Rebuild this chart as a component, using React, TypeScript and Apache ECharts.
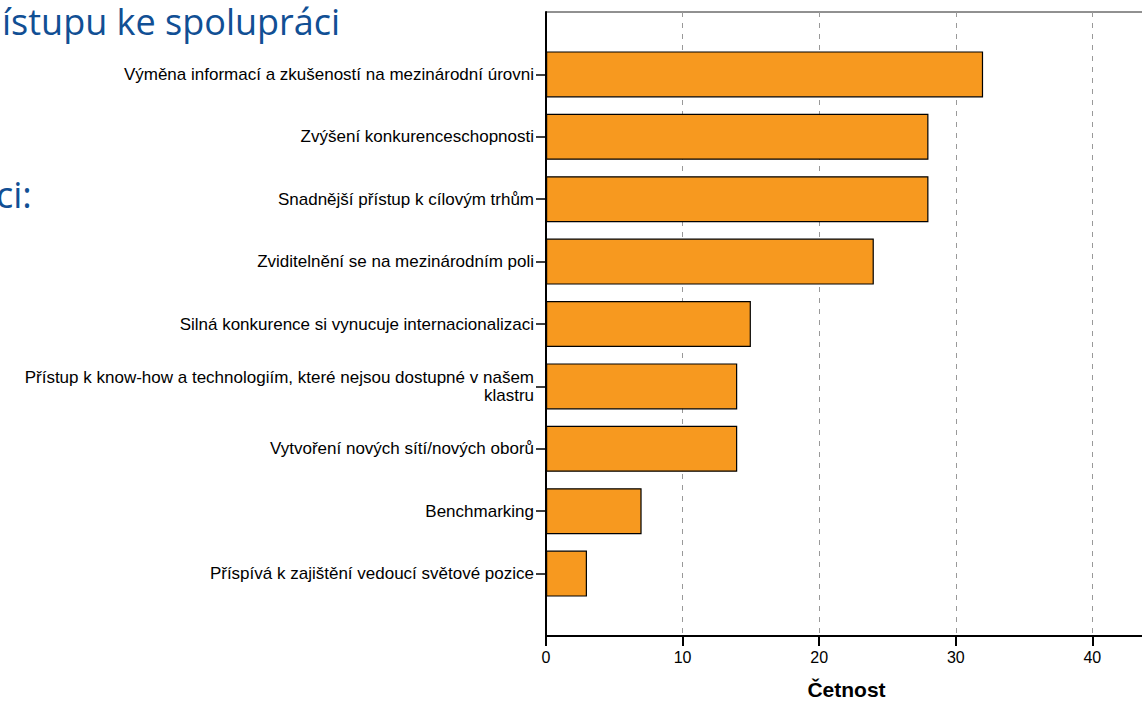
import React, { useEffect, useRef } from "react";
import * as echarts from "echarts";

const categories: string[] = [
  "Výměna informací a zkušeností na mezinárodní úrovni",
  "Zvýšení konkurenceschopnosti",
  "Snadnější přístup k cílovým trhům",
  "Zviditelnění se na mezinárodním poli",
  "Silná konkurence si vynucuje internacionalizaci",
  "Přístup k know-how a technologiím, které nejsou dostupné v našem\nklastru",
  "Vytvoření nových sítí/nových oborů",
  "Benchmarking",
  "Příspívá k zajištění vedoucí světové pozice",
];
const values: number[] = [32, 28, 28, 24, 15, 14, 14, 7, 3];
const xTicks: number[] = [0, 10, 20, 30, 40];
const axisTitle = "Četnost";
const titleFragment = "ístupu ke spolupráci";
const subFragment = "ci:";

export default function App() {
  const ref = useRef<HTMLDivElement>(null);
  useEffect(() => {
    if (!ref.current) return;
    const chart = echarts.init(ref.current, undefined, { renderer: "svg" });
    const cats = ["", ...categories, ""];
    const data = [null, ...values, null];
    chart.setOption({
      animation: false,
      backgroundColor: "#ffffff",
      textStyle: { fontFamily: "Liberation Sans, Arial, sans-serif" },
      graphic: [
        {
          type: "text",
          left: 2,
          top: 3,
          style: {
            text: titleFragment,
            fontFamily: "Open Sans, sans-serif",
            fontSize: 36,
            fill: "#114f94",
          },
        },
        {
          type: "text",
          x: -4,
          y: 176,
          style: {
            text: subFragment,
            fontFamily: "Open Sans, sans-serif",
            fontSize: 36,
            fill: "#114f94",
          },
        },
      ],
      grid: {
        left: 546,
        width: 601,
        top: 12,
        height: 624,
        outerBoundsMode: "none",
        containLabel: false,
        show: true,
        borderColor: "#222",
        borderWidth: 1,
        backgroundColor: "transparent",
      },
      xAxis: {
        type: "value",
        min: 0,
        max: 44,
        interval: 10,
        name: axisTitle,
        nameLocation: "middle",
        nameGap: 43,
        nameTextStyle: {
          fontSize: 21,
          lineHeight: 20,
          fontWeight: "bold",
          color: "#000",
        },
        axisLine: { show: true, lineStyle: { color: "#000", width: 2 } },
        axisTick: { show: true, length: 10, lineStyle: { color: "#000", width: 2 } },
        axisLabel: {
          margin: 13,
          fontSize: 16,
          color: "#000",
          formatter: (v: number) => (xTicks.includes(v) ? String(v) : ""),
        },
        splitLine: {
          show: true,
          lineStyle: { color: "#999", width: 1, type: [5, 6] },
        },
      },
      yAxis: {
        type: "category",
        data: cats,
        inverse: true,
        boundaryGap: false,
        axisLine: { show: true, lineStyle: { color: "#000", width: 2 } },
        axisTick: {
          show: true,
          length: 10,
          interval: (_i: number, v: string) => v !== "",
          lineStyle: { color: "#000", width: 1.5 },
        },
        axisLabel: {
          margin: 12,
          fontSize: 17,
          color: "#000",
          lineHeight: 18,
          interval: 0,
        },
        splitLine: { show: false },
      },
      series: [
        {
          type: "bar",
          data,
          barWidth: 46,
          itemStyle: { color: "#f7991f", borderColor: "#000", borderWidth: 1.2 },
        },
      ],
    });
    return () => chart.dispose();
  }, []);
  return (
    <div
      ref={ref}
      style={{ position: "fixed", left: 0, top: 0, width: 1142, height: 701 }}
    />
  );
}
